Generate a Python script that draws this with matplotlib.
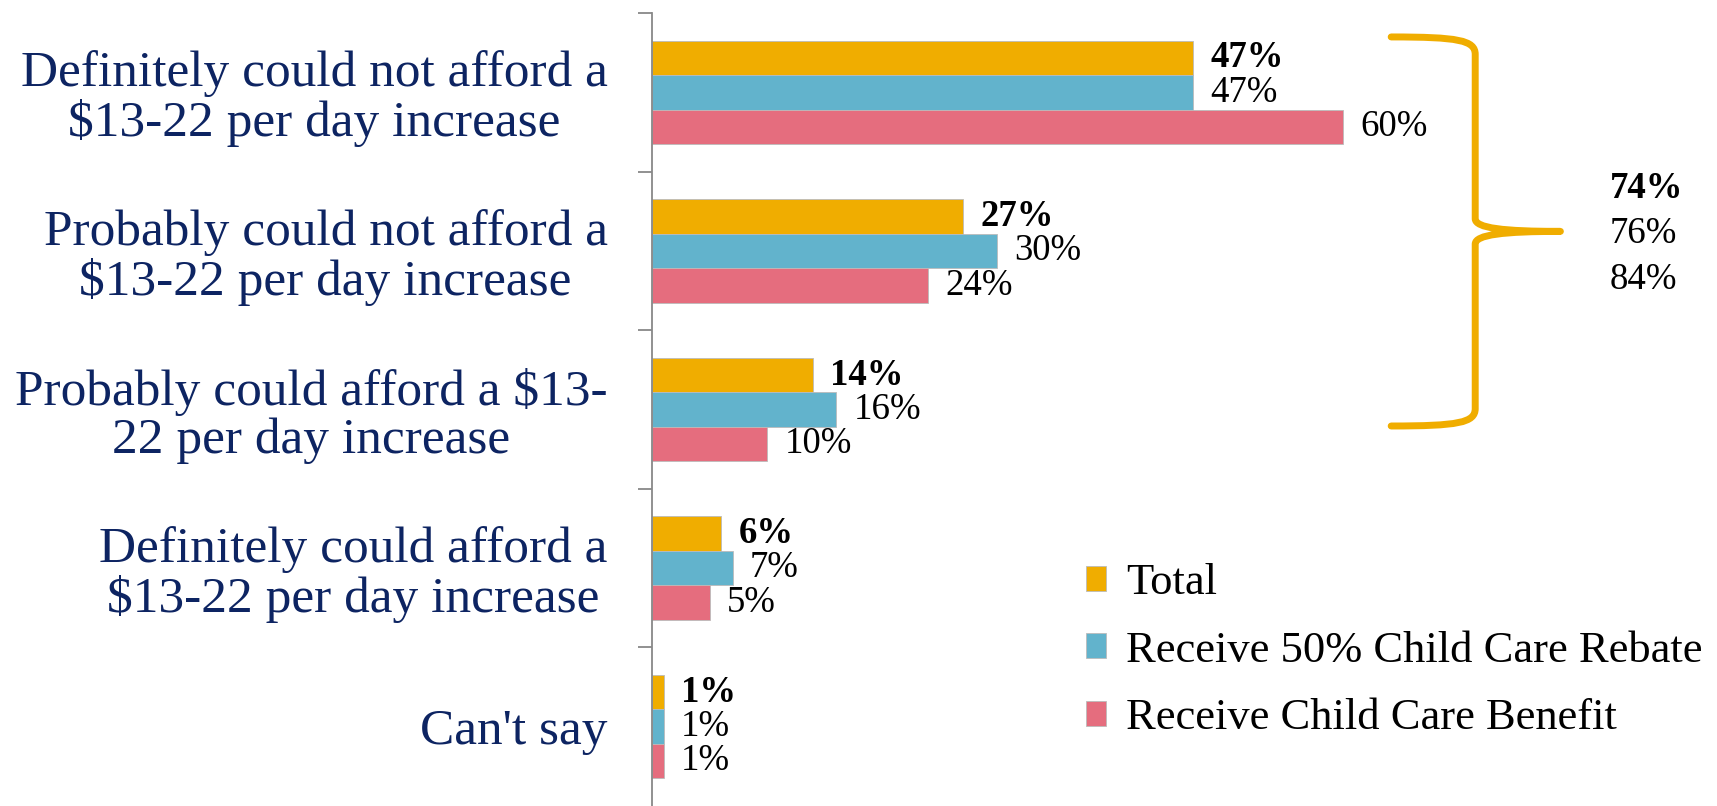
import numpy as np
import matplotlib.pyplot as plt
from matplotlib.patches import Patch, PathPatch
from matplotlib.path import Path

plt.rcParams['font.family'] = ['Liberation Serif', 'DejaVu Serif']

categories = ['Definitely could not afford a\n$13-22 per day increase',
              'Probably could not afford a\n$13-22 per day increase',
              'Probably could afford a $13-\n22 per day increase',
              'Definitely could afford a\n$13-22 per day increase',
              "Can't say"]
series = ['Total', 'Receive 50% Child Care Rebate', 'Receive Child Care Benefit']
total = [47, 27, 14, 6, 1]
rebate = [47, 30, 16, 7, 1]
benefit = [60, 24, 10, 5, 1]
net_labels = ['74%', '76%', '84%']

colors = ['#F0AD00', '#62B3CC', '#E56D7E']
navy = '#0D2462'

fig = plt.figure(figsize=(17.17, 8.06), dpi=100)
ax = fig.add_axes([652/1717, 0, 1 - 652/1717, 793/806])

y = np.arange(len(categories))
h = 0.217
for k, (vals, col) in enumerate(zip([total, rebate, benefit], colors)):
    bars = ax.barh(y + (k - 1)*h, vals, height=h, color=col, edgecolor='#bbbbbb', linewidth=0.6)
    for b, v in zip(bars, vals):
        ax.text(v + 1.5, b.get_y() + h/2, f'{v}%', va='center', ha='left', fontsize=26.5,
                fontweight='bold' if k == 0 else 'normal', color='black')

ax.set_xlim(0, 92.5)
ax.set_ylim(len(categories) - 0.5, -0.5)
ax.set_xticks([])
ax.set_yticks(y)
ax.set_yticklabels(categories, fontsize=37, color=navy, linespacing=1.05)
for lbl in ax.get_yticklabels():
    lbl.set_multialignment('center')
ax.set_yticks(np.arange(-0.5, len(categories) - 0.5), minor=True)
ax.tick_params(axis='y', which='major', length=0, pad=32)
ax.tick_params(axis='y', which='minor', length=10, width=1.3, color='#888888')
for s in ['top', 'right', 'bottom']:
    ax.spines[s].set_visible(False)
ax.spines['left'].set_color('#888888')
ax.spines['left'].set_linewidth(1.3)

# brace for the "could not afford" groups
xl, xv, xt = 64.2, 71.5, 78.9
yt, ym, yb = -0.349, 0.877, 2.104
verts = [(xl, yt), (70.0, yt), (xv, yt + 0.02), (xv, yt + 0.11),
         (xv, ym - 0.08),
         (xv, ym - 0.02), (74.0, ym), (xt, ym),
         (74.0, ym), (xv, ym + 0.02), (xv, ym + 0.08),
         (xv, yb - 0.11),
         (xv, yb - 0.02), (70.0, yb), (xl, yb)]
codes = [Path.MOVETO, Path.CURVE4, Path.CURVE4, Path.CURVE4,
         Path.LINETO,
         Path.CURVE4, Path.CURVE4, Path.CURVE4,
         Path.CURVE4, Path.CURVE4, Path.CURVE4,
         Path.LINETO,
         Path.CURVE4, Path.CURVE4, Path.CURVE4]
ax.add_patch(PathPatch(Path(verts, codes), fill=False, edgecolor=colors[0], lw=5,
                       capstyle='round', joinstyle='round', clip_on=False))

for i, t in enumerate(net_labels):
    ax.text(83.2, 0.607 + i*0.286, t, va='center', ha='left', fontsize=26.5,
            fontweight='bold' if i == 0 else 'normal', clip_on=False)

handles = [Patch(facecolor=c, edgecolor='#bbbbbb', linewidth=0.6) for c in colors]
fig.legend(handles, series, loc='upper left', bbox_to_anchor=(1086/1717, 1 - 563/806),
           frameon=False, fontsize=32, handlelength=0.45, handleheight=0.5,
           handletextpad=0.45, labelspacing=0.62, borderpad=0, borderaxespad=0)

fig.savefig('out.png', dpi=100)
